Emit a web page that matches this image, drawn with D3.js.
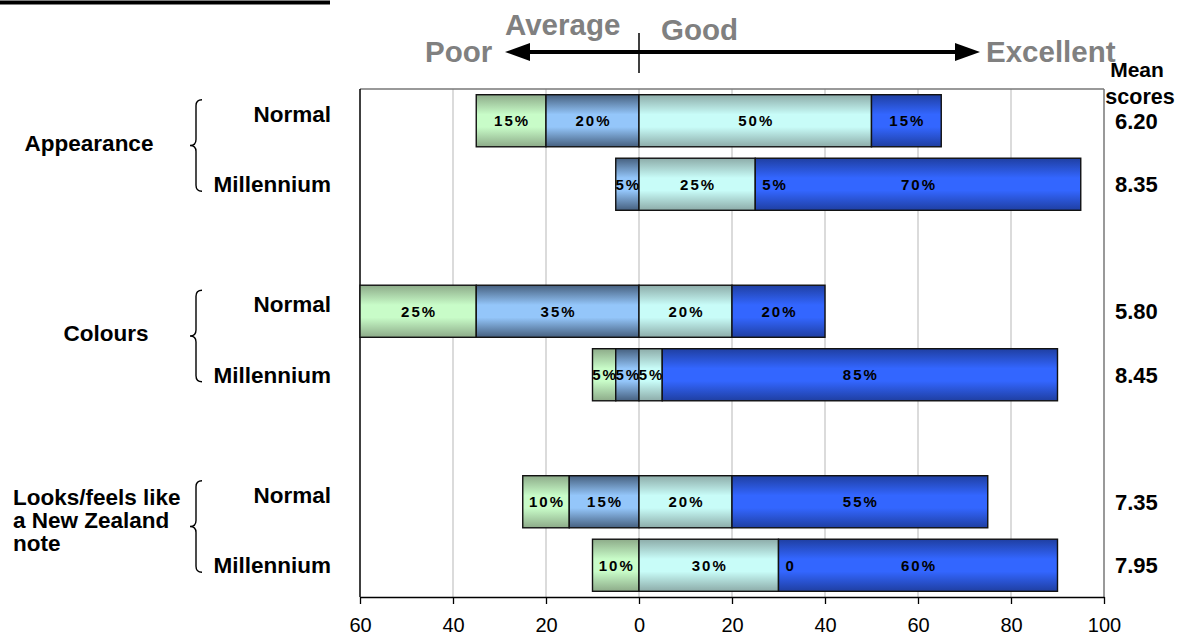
<!DOCTYPE html>
<html><head><meta charset="utf-8">
<script src="https://cdn.jsdelivr.net/npm/d3@7"></script>
<style>
body{margin:0;background:#fff;}
svg{display:block;font-family:Arial,"Liberation Sans",sans-serif;}
</style></head>
<body><svg id="c" width="1179" height="637"></svg>
<script>
// ---- data ----
const groups = ["Appearance", "Colours", "Looks/feels like|a New Zealand|note"];
const rowTypes = ["Normal", "Millennium"];
const rowKeys = ["A-N","A-M","gap1","C-N","C-M","gap2","L-N","L-M"];
const seriesNames = ["Poor","Average","Good","Excellent"];
const poor      = [15, 0, 25, 5, 10, 10];
const average   = [20, 5, 35, 5, 15, 0];
const good      = [50, 25, 20, 5, 20, 30];
const excellent = [15, 70, 20, 85, 55, 60];
const strayLabels = ["", "5%", "", "", "", "0"];
const meanScores = ["6.20","8.35","5.80","8.45","7.35","7.95"];
const xTicks = [-60,-40,-20,0,20,40,60,80,100];
const seriesColors = [
  {edge:"#8dab89", mid:"#c8fcc8"},
  {edge:"#46607f", mid:"#94c6fa"},
  {edge:"#8daca9", mid:"#c8fcf8"},
  {edge:"#1f3fa2", mid:"#3366ff"}
];

// ---- layout ----
const svg = d3.select("#c");
const L = 360, R = 1104, T = 89, B = 597;
const x = d3.scaleLinear().domain([-60,100]).range([L,R]);
const y = d3.scaleBand().domain(rowKeys).range([T,B]).paddingInner(0.18).paddingOuter(0.09);
const dataRowKeys = rowKeys.filter(k => !k.startsWith("gap"));

// gradients
const defs = svg.append("defs");
seriesColors.forEach((c,i)=>{
  const g = defs.append("linearGradient").attr("id","g"+i).attr("x1",0).attr("x2",0).attr("y1",0).attr("y2",1);
  [[0,c.edge],[0.38,c.mid],[0.62,c.mid],[1,c.edge]].forEach(s=>g.append("stop").attr("offset",s[0]).attr("stop-color",s[1]));
});

// title underline (cut off title)
svg.append("line").attr("x1",0).attr("x2",330).attr("y1",2.5).attr("y2",2.5).attr("stroke","#000").attr("stroke-width",4);

// gridlines
svg.append("g").selectAll("line").data(xTicks.filter(t=>t>-60 && t<100)).join("line")
  .attr("x1",d=>x(d)).attr("x2",d=>x(d)).attr("y1",T).attr("y2",B)
  .attr("stroke","#c8c8c8").attr("stroke-width",1.3);

// frame
svg.append("line").attr("x1",L).attr("x2",R).attr("y1",T).attr("y2",T).attr("stroke","#777").attr("stroke-width",1.5);
svg.append("line").attr("x1",R).attr("x2",R).attr("y1",T).attr("y2",B).attr("stroke","#777").attr("stroke-width",1.5);
svg.append("line").attr("x1",L).attr("x2",L).attr("y1",T).attr("y2",B).attr("stroke","#000").attr("stroke-width",1.5);

// stacked segments
const segs = [];
dataRowKeys.forEach((k,i)=>{
  const vals = [poor[i],average[i],good[i],excellent[i]];
  const starts = [-(average[i]+poor[i]), -average[i], 0, good[i]];
  vals.forEach((v,s)=>{ segs.push({row:k, s, x0:starts[s], x1:starts[s]+v, v}); });
});
const bars = svg.append("g");
bars.selectAll("rect").data(segs.filter(d=>d.v>0)).join("rect")
  .attr("x",d=>x(d.x0)).attr("width",d=>x(d.x1)-x(d.x0))
  .attr("y",d=>y(d.row)).attr("height",y.bandwidth())
  .attr("fill",d=>"url(#g"+d.s+")").attr("stroke","#111").attr("stroke-width",1.4);

bars.selectAll("text.pct").data(segs.filter(d=>d.v>0)).join("text").attr("class","pct")
  .attr("x",d=>x((d.x0+d.x1)/2)+1).attr("y",d=>y(d.row)+y.bandwidth()/2+5.5)
  .attr("text-anchor","middle").attr("font-size",15).attr("font-weight","bold")
  .attr("letter-spacing","2px").text(d=>d.v+"%");

// stray labels at start of Excellent segment
bars.selectAll("text.stray").data(dataRowKeys.map((k,i)=>({k,i,t:strayLabels[i]})).filter(d=>d.t)).join("text").attr("class","stray")
  .attr("x",d=>x(good[d.i])+7).attr("y",d=>y(d.k)+y.bandwidth()/2+5.5)
  .attr("font-size",15).attr("font-weight","bold").attr("letter-spacing","2px").text(d=>d.t);

// x axis
const ax = svg.append("g").attr("transform",`translate(0,${B})`)
  .call(d3.axisBottom(x).tickValues(xTicks).tickFormat(d=>Math.abs(d)).tickSize(7).tickSizeOuter(0).tickPadding(14));
ax.select(".domain").attr("stroke","#000").attr("stroke-width",1.5);
ax.selectAll(".tick line").attr("stroke","#000").attr("stroke-width",1.3);
ax.selectAll(".tick text").attr("font-size",20).attr("fill","#000").attr("font-family",'Arial,"Liberation Sans",sans-serif');

// row labels
svg.append("g").selectAll("text").data(dataRowKeys).join("text")
  .attr("x",331).attr("y",(d,i)=>y(d)+y.bandwidth()/2+(i%2===0? 1:8))
  .attr("text-anchor","end").attr("font-size",22.5).attr("font-weight","bold")
  .text((d,i)=>rowTypes[i%2]);

// braces and group labels
groups.forEach((g,gi)=>{
  const yN = y(dataRowKeys[gi*2])+y.bandwidth()/2, yM = y(dataRowKeys[gi*2+1])+y.bandwidth()/2;
  const y1 = yN-21, y2 = yM+7, ym = (y1+y2)/2;
  const xr = 202, xc = 196, xl = 190;
  svg.append("path").attr("d",`M${xr},${y1} Q${xc},${y1} ${xc},${y1+6} L${xc},${ym-6} Q${xc},${ym} ${xl},${ym} Q${xc},${ym} ${xc},${ym+6} L${xc},${y2-6} Q${xc},${y2} ${xr},${y2}`)
    .attr("fill","none").attr("stroke","#000").attr("stroke-width",1.4);
  const lines = g.split("|");
  if(lines.length===1){
    svg.append("text").attr("x",gi===0?89:106).attr("y",ym+5).attr("text-anchor","middle")
      .attr("font-size",22.5).attr("font-weight","bold").text(g);
  } else {
    lines.forEach((ln,li)=>svg.append("text").attr("x",13).attr("y",ym-8+(li-1)*23+9)
      .attr("font-size",22.5).attr("font-weight","bold").text(ln));
  }
});

// mean scores
svg.append("text").attr("x",1137).attr("y",77).attr("text-anchor","middle").attr("font-size",21).attr("font-weight","bold").text("Mean");
svg.append("text").attr("x",1140).attr("y",104).attr("text-anchor","middle").attr("font-size",21.5).attr("font-weight","bold").text("scores");
svg.append("g").selectAll("text").data(dataRowKeys).join("text")
  .attr("x",1115).attr("y",d=>y(d)+y.bandwidth()/2+8)
  .attr("font-size",22).attr("font-weight","bold").text((d,i)=>meanScores[i]);

// header scale
const hy = 52;
const hdr = svg.append("g");
hdr.append("line").attr("x1",520).attr("x2",962).attr("y1",hy).attr("y2",hy).attr("stroke","#000").attr("stroke-width",4);
hdr.append("path").attr("d",`M505,${hy} L530,${hy-9} L530,${hy+9} Z`).attr("fill","#000");
hdr.append("path").attr("d",`M980,${hy} L955,${hy-9} L955,${hy+9} Z`).attr("fill","#000");
hdr.append("line").attr("x1",x(0)).attr("x2",x(0)).attr("y1",33).attr("y2",73).attr("stroke","#000").attr("stroke-width",1.5);
const hs = {fill:"#808080","font-size":29.5,"font-weight":"bold"};
[["Poor",425,62],["Average",505,35],["Good",661,40],["Excellent",986,62]].forEach(([t,xx,yy])=>{
  const e = hdr.append("text").attr("x",xx).attr("y",yy).text(t);
  Object.entries(hs).forEach(([k,v])=>e.attr(k,v));
});
</script></body></html>
